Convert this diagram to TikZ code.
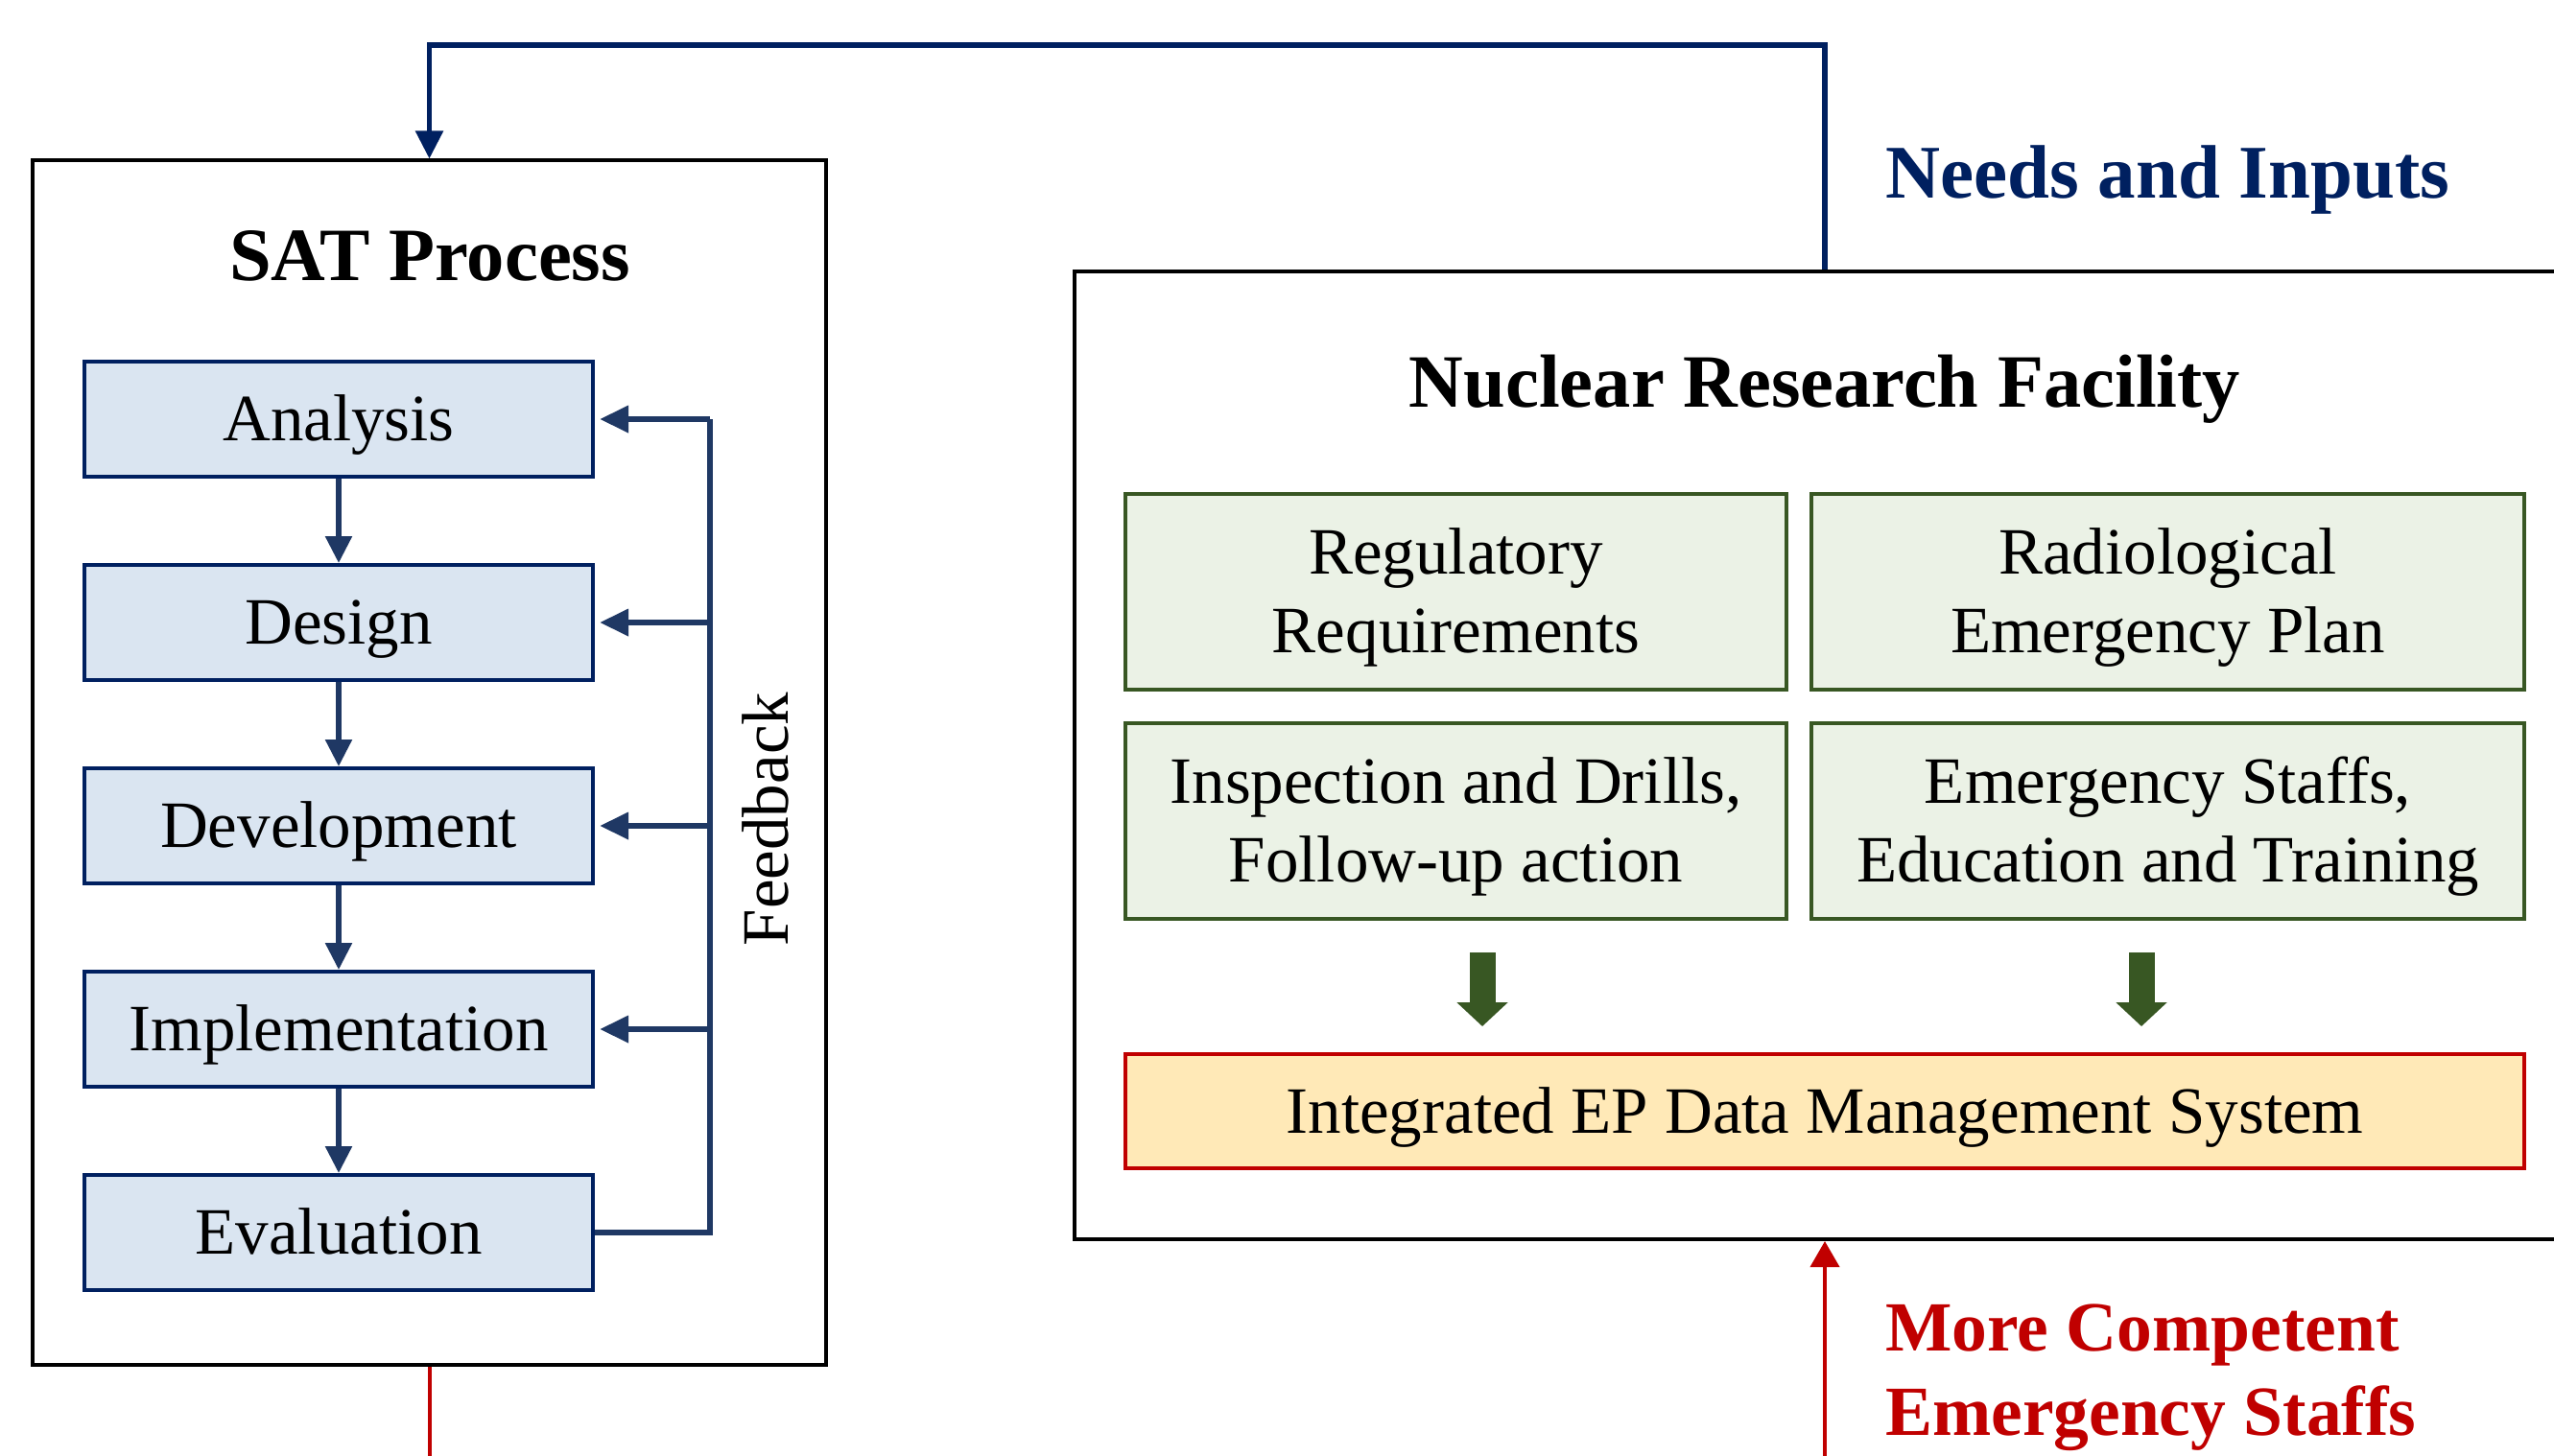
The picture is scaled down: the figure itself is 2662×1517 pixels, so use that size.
\documentclass[tikz,border=0pt]{standalone}
\usepackage{fontspec}
\setmainfont{Liberation Serif}
\usetikzlibrary{arrows.meta,calc}

\definecolor{navy}{HTML}{002060}
\definecolor{navyline}{HTML}{1F3864}
\definecolor{boxblue}{HTML}{DAE5F1}
\definecolor{boxgreen}{HTML}{EBF2E6}
\definecolor{leaf}{HTML}{385723}
\definecolor{sand}{HTML}{FFE9B7}
\definecolor{crimson}{HTML}{C00000}

\newcommand{\regfont}{\fontsize{69}{82}\selectfont}
\newcommand{\headfont}{\fontsize{78.5}{92}\selectfont\bfseries}
\newcommand{\needsfont}{\fontsize{79}{92}\selectfont\bfseries}
\newcommand{\notefont}{\fontsize{73.5}{88}\selectfont\bfseries}

\begin{document}
\begin{tikzpicture}[x=1pt,y=-1pt,
  every node/.style={inner sep=0pt},
  frame/.style={draw=black,line width=4pt,fill=white},
  stage/.style={draw=navy,line width=4pt,fill=boxblue,minimum width=530pt,
    minimum height=120pt,font=\regfont,text height=45.5pt,text depth=0pt},
  cell/.style={draw=leaf,line width=4pt,fill=boxgreen,minimum height=204pt},
  cellline/.style={font=\regfont,anchor=base},
  flow/.style={draw=navyline,line width=5.5pt,-{Triangle[length=28pt,width=27pt]}},
  fbline/.style={draw=navyline,line width=6.5pt},
  fbtip/.style={fbline,shorten >=5pt,-{Triangle[length=30pt,width=27pt]}},
  topconn/.style={draw=navy,line width=5.5pt,-{Triangle[length=29pt,width=28pt]}},
  redline/.style={draw=crimson,line width=4pt},
  blockarrow/.style={draw=leaf,line width=27pt,-{Triangle[length=25pt,width=52pt]}},
  note/.style={anchor=base west}
]
\clip (0,0) rectangle (2662,1517);
\fill[white] (0,0) rectangle (2662,1517);

% helper rows for connectors leaving the picture
\coordinate (toprow) at (0,47);
\coordinate (floor) at (0,1540);

% ---------------- SAT process ----------------
\node[frame,minimum width=827pt,minimum height=1255pt] (sat) at (447.5,795) {};
\node[font=\headfont,anchor=base] (sattitle) at (448,292) {SAT Process};

\node[stage] (ana) at (353,437) {Analysis};
\node[stage] (des) at (353,649) {Design};
\node[stage] (dev) at (353,861) {Development};
\node[stage] (imp) at (353,1073) {Implementation};
\node[stage] (eva) at (353,1285) {Evaluation};

\draw[flow] (ana) -- (des);
\draw[flow] (des) -- (dev);
\draw[flow] (dev) -- (imp);
\draw[flow] (imp) -- (eva);

% feedback loop
\coordinate (fbbot) at (740,1285);
\coordinate (fbtop) at (740,437);
\draw[fbline] (eva.east) -- (fbbot) -- (fbtop);
\draw[fbtip] (fbtop) -- (ana.east);
\draw[fbtip] (fbtop |- des.east) -- (des.east);
\draw[fbtip] (fbtop |- dev.east) -- (dev.east);
\draw[fbtip] (fbtop |- imp.east) -- (imp.east);
\node[font=\regfont,rotate=90] (fblabel) at (798,854) {Feedback};

% ---------------- Nuclear research facility ----------------
\node[frame,minimum width=1564pt,minimum height=1009pt] (nrf) at (1902,787.5) {};
\node[font=\headfont,anchor=base] (nrftitle) at (1902,424) {Nuclear Research Facility};

\node[cell,minimum width=689pt] (reg) at (1517.5,617) {};
\node[cell,minimum width=743pt] (rad) at (2259.5,617) {};
\node[cell,minimum width=689pt] (ins) at (1517.5,856) {};
\node[cell,minimum width=743pt] (emt) at (2259.5,856) {};

\node[cellline] (reg1) at ([yshift=19pt]reg.center) {Regulatory};
\node[cellline] (reg2) at ([yshift=-63pt]reg.center) {Requirements};
\node[cellline] (rad1) at ([yshift=19pt]rad.center) {Radiological};
\node[cellline] (rad2) at ([yshift=-63pt]rad.center) {Emergency Plan};
\node[cellline] (ins1) at ([yshift=19pt]ins.center) {Inspection and Drills,};
\node[cellline] (ins2) at ([yshift=-63pt]ins.center) {Follow-up action};
\node[cellline] (emt1) at ([yshift=19pt]emt.center) {Emergency Staffs,};
\node[cellline] (emt2) at ([yshift=-63pt]emt.center) {Education and Training};

\node[stage,draw=crimson,fill=sand,minimum width=1458pt,minimum height=119pt]
  (ieds) at (1902,1158.5) {Integrated EP Data Management System};

\coordinate (ga1s) at (1545,993);
\coordinate (ga1e) at (1545,1070);
\coordinate (ga2s) at (2232,993);
\coordinate (ga2e) at (2232,1070);
\draw[blockarrow] (ga1s) -- (ga1e);
\draw[blockarrow] (ga2s) -- (ga2e);

% ---------------- outer connectors ----------------
\draw[topconn] (nrf.north) -- (nrf.north |- toprow) -- (sat.north |- toprow) -- (sat.north);
\draw[redline] (sat.south) -- (sat.south |- floor);
\draw[redline,-{Triangle[length=27pt,width=30pt]}] (nrf.south |- floor) -- (nrf.south);

\node[note,font=\needsfont,text=navy] (needs) at (1965,207) {Needs and Inputs};
\node[note,font=\notefont,text=crimson] (gain1) at (1965,1408) {More Competent};
\node[note,font=\notefont,text=crimson] (gain2) at (1965,1496) {Emergency Staffs};
\end{tikzpicture}
\end{document}
